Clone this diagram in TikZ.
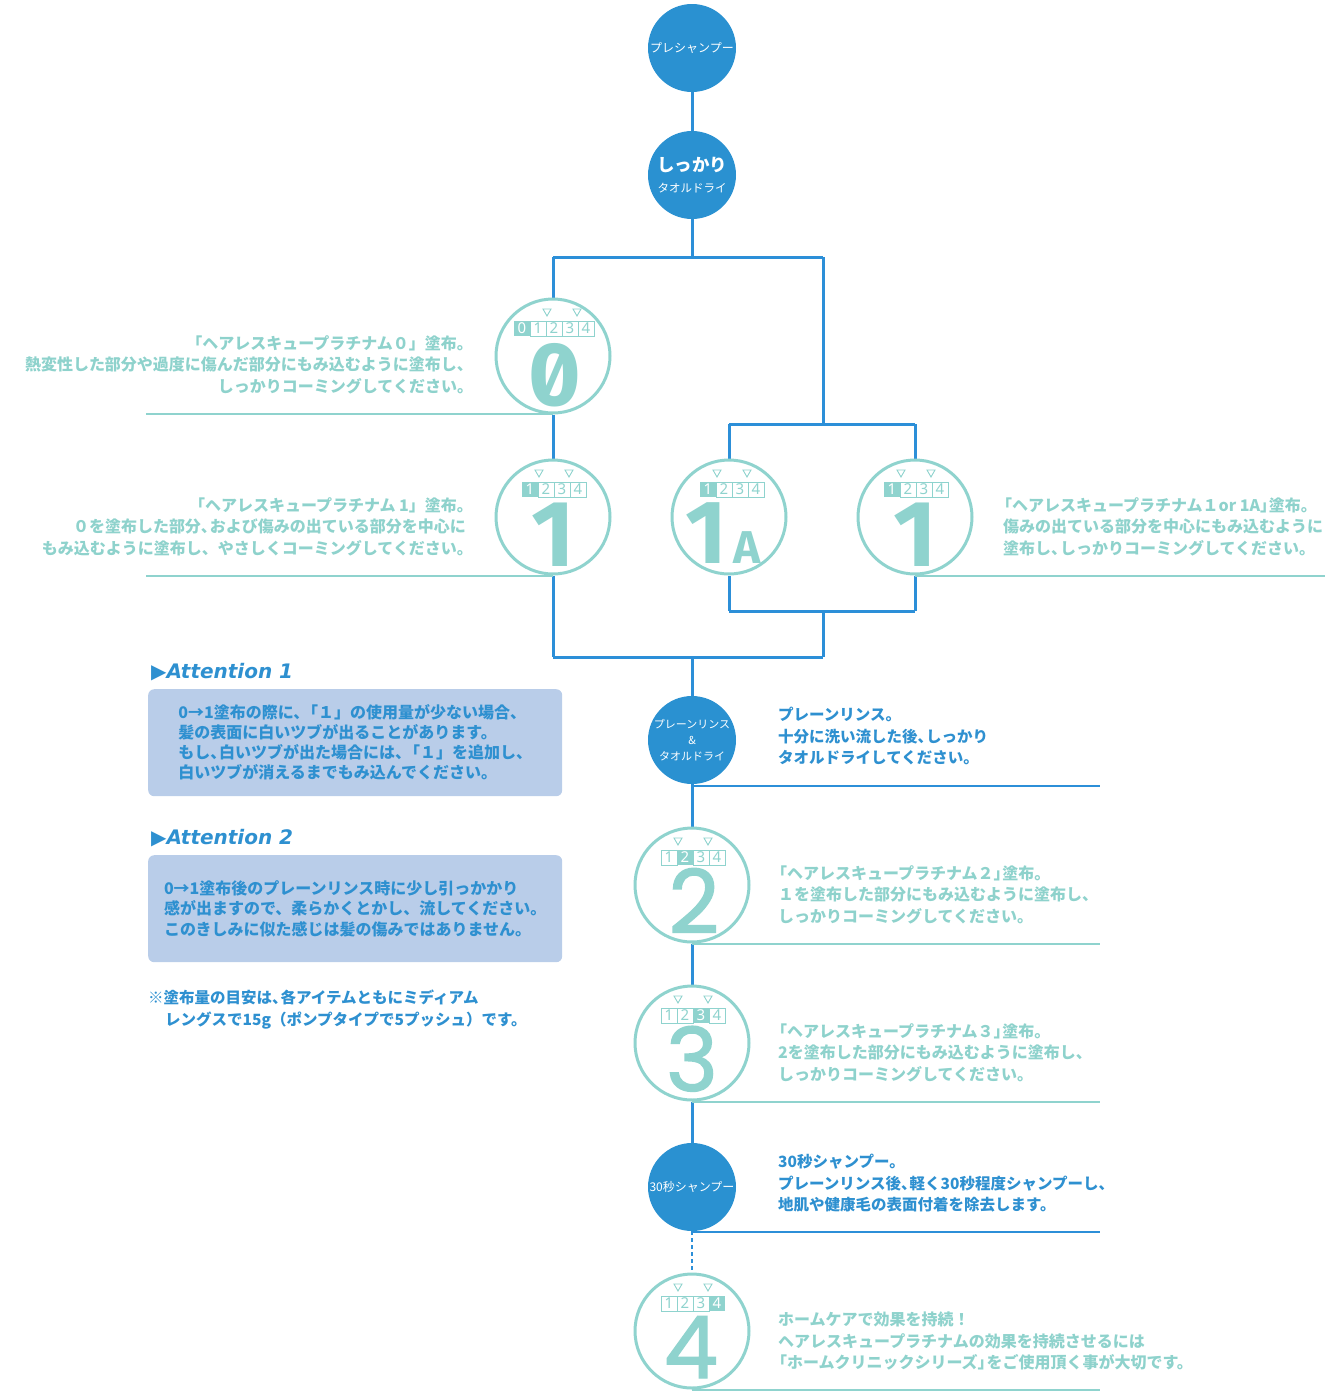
\documentclass[tikz,border=0pt]{standalone}
\usepackage{fontspec}
\setmainfont{Noto Sans CJK JP}
\newfontfamily\dvf{DejaVu Sans}
\newfontfamily\popf[FakeBold=1.6]{Poppins}
\newfontfamily\firaf[Numbers=SlashedZero]{Fira Sans}
\newfontfamily\idf{Noto Sans}
\usetikzlibrary{backgrounds}
\definecolor{cblue}{HTML}{2A91D1}
\definecolor{lblue}{HTML}{2C8FD8}
\definecolor{cteal}{HTML}{8FD3CE}
\definecolor{tteal}{HTML}{8ED2CC}
\definecolor{aboxc}{HTML}{B9CDE9}
\definecolor{btxt}{HTML}{2E90D0}
\newcommand\jlb{\kern-0.45em「}
\newcommand\jke{\kern-0.45em}
\tikzset{
  bc/.style={circle,fill=cblue,minimum size=88,inner sep=0,text=white,align=center},
  tc/.style={circle,draw=cteal,line width=3,fill=white,minimum size=114,inner sep=0},
  conn/.style={draw=lblue,line width=3},
  tline/.style={draw=cteal,line width=1.5},
  bline/.style={draw=lblue,line width=2},
  ttext/.style={text=tteal,font=\bfseries\fontsize{16}{21.5}\selectfont,inner sep=0},
  btext/.style={text=btxt,font=\bfseries\fontsize{15.5}{21.5}\selectfont,inner sep=0},
  abox/.style={fill=aboxc,rounded corners=6,inner sep=0,minimum width=414,minimum height=107,anchor=north west,align=left,text=btxt},
  atitle/.style={text=btxt,font=\dvf\bfseries\itshape\fontsize{20}{24}\selectfont,inner sep=0,anchor=west},
  idig/.style={inner sep=0,font=\idf\fontsize{15}{15}\selectfont},
  bigd/.style={inner sep=0,text=cteal,anchor=base}
}
\newcommand\Indic[4]{%
  \foreach \d in {#3,...,4}{%
    \pgfmathsetmacro\xa{#1+16*(\d-1)}%
    \ifnum\d=#4\relax
      \fill[cteal] ({\xa},{#2-35}) rectangle ++(16,15);
      \node[idig,text=white] (ind#2-\d) at ({\xa+8},{#2-27.5}) {\d};
    \else
      \draw[cteal,line width=1] ({\xa},{#2-35}) rectangle ++(16,15);
      \node[idig,text=cteal] (ind#2-\d) at ({\xa+8},{#2-27.5}) {\d};
    \fi
  }%
  \draw[cteal,line width=0.9] ({#1+13},{#2-47}) -- ++(8,0) -- ++(-4,7) -- cycle;
  \draw[cteal,line width=0.9] ({#1+43},{#2-47}) -- ++(8,0) -- ++(-4,7) -- cycle;
}
\begin{document}
\begin{tikzpicture}[x=1pt,y=-1pt]
\useasboundingbox (0,0) rectangle (1335,1393);

% blue step circles
\node[bc,font=\fontsize{12}{14}\selectfont] (s1) at (692,48) {プレシャンプー};
\node[bc,font=\fontsize{11.5}{21}\selectfont] (s2) at (692,175) {{\fontsize{17.5}{20}\selectfont\bfseries しっかり}\\タオルドライ};
\node[bc,font=\fontsize{11}{16}\selectfont] (rin) at (692,740) {プレーンリンス\\\&\\タオルドライ};
\node[bc,font=\fontsize{12}{14}\selectfont] (s30) at (692,1187) {30秒シャンプー};

% teal circles
\node[tc] (c0) at (553,356) {};
\node[tc] (c1l) at (553,517) {};
\node[tc] (c1a) at (729,517) {};
\node[tc] (c1r) at (915,517) {};
\node[tc] (c2) at (692,885) {};
\node[tc] (c3) at (692,1043) {};
\node[tc] (c4) at (692,1331) {};

% indicators
\Indic{530}{356}{0}{0}
\Indic{522}{517}{1}{1}
\Indic{700}{517}{1}{1}
\Indic{884}{517}{1}{1}
\Indic{661}{885}{1}{2}
\Indic{661}{1043}{1}{3}
\Indic{661}{1331}{1}{4}

% big digits
\node[bigd,font=\firaf\bfseries\fontsize{90}{90}\selectfont] (d0) at (555,405) {0};
\node[bigd,font=\firaf\bfseries\fontsize{94}{94}\selectfont] (d1l) at (553,566) {1};
\node[bigd,font=\firaf\bfseries\fontsize{90}{90}\selectfont,anchor=base east] (d1a) at (727,563) {1};
\node[bigd,font=\firaf\bfseries\fontsize{46}{46}\selectfont,anchor=base west] (d1aA) at (733,563) {A};
\node[bigd,font=\firaf\bfseries\fontsize{94}{94}\selectfont] (d1r) at (915,566) {1};
\node[bigd,font=\popf\fontsize{88}{88}\selectfont] (d2) at (694,933) {2};
\node[bigd,font=\popf\fontsize{88}{88}\selectfont] (d3) at (692,1091) {3};
\node[bigd,font=\popf\fontsize{86}{86}\selectfont] (d4) at (691,1378) {4};

% connectors
\begin{scope}[on background layer]
\coordinate (j0) at (692,257);
\coordinate (jl) at (553,257);
\coordinate (jr) at (823,257);
\coordinate (rj) at (823,424);
\coordinate (ra) at (729,424);
\coordinate (rb) at (915,424);
\coordinate (qa) at (729,611);
\coordinate (qb) at (915,611);
\coordinate (qm) at (823,611);
\coordinate (bl) at (553,657);
\coordinate (br) at (823,657);
\coordinate (m0) at (692,657);
\draw[conn] (s1) -- (s2);
\draw[conn] (s2) -- (j0);
\draw[conn] (jl) -- (jr);
\draw[conn] (jl) -- (c0);
\draw[conn] (c0) -- (c1l);
\draw[conn] (c1l) -- (bl);
\draw[conn] (bl) -- (br);
\draw[conn] (jr) -- (rj);
\draw[conn] (ra) -- (rb);
\draw[conn] (ra) -- (c1a);
\draw[conn] (rb) -- (c1r);
\draw[conn] (c1a) -- (qa);
\draw[conn] (c1r) -- (qb);
\draw[conn] (qa) -- (qb);
\draw[conn] (qm) -- (br);
\draw[conn] (m0) -- (rin);
\draw[conn] (rin) -- (c2);
\draw[conn] (c2) -- (c3);
\draw[conn] (c3) -- (s30);
\draw[draw=lblue,line width=1.5,dash pattern=on 4pt off 3pt] (s30) -- (c4);
% underlines
\draw[tline] (146,414) -- (553,414);
\draw[tline] (146,576) -- (553,576);
\draw[tline] (915,576) -- (1325,576);
\draw[bline] (692,786) -- (1100,786);
\draw[tline] (692,944) -- (1100,944);
\draw[tline] (692,1102) -- (1100,1102);
\draw[bline] (692,1232) -- (1100,1232);
\draw[tline] (692,1390) -- (1100,1390);
\end{scope}

% descriptive texts
\node[ttext,anchor=north east,align=right] (t0) at (466,335) {「ヘアレスキュープラチナム０」塗布。\jke\\熱変性した部分や過度に傷んだ部分にもみ込むように塗布し、\jke\\しっかりコーミングしてください。\jke};
\node[ttext,anchor=north east,align=right] (t1l) at (466,497) {「ヘアレスキュープラチナム 1」塗布。\jke\\０を塗布した部分、\jke および傷みの出ている部分を中心に\\もみ込むように塗布し、やさしくコーミングしてください。\jke};
\node[ttext,anchor=north west,align=left] (t1r) at (1003,497) {\jlb ヘアレスキュープラチナム１or 1A」\jke 塗布。\\傷みの出ている部分を中心にもみ込むように\\塗布し、\jke しっかりコーミングしてください。};
\node[btext,anchor=north west,align=left] (trin) at (778,707) {プレーンリンス。\\十分に洗い流した後、\jke しっかり\\タオルドライしてください。};
\node[ttext,anchor=north west,align=left] (t2) at (778,865) {\jlb ヘアレスキュープラチナム２」\jke 塗布。\\１を塗布した部分にもみ込むように塗布し、\\しっかりコーミングしてください。};
\node[ttext,anchor=north west,align=left] (t3) at (778,1023) {\jlb ヘアレスキュープラチナム３」\jke 塗布。\\2を塗布した部分にもみ込むように塗布し、\\しっかりコーミングしてください。};
\node[btext,anchor=north west,align=left] (t30) at (778,1154) {30秒シャンプー。\\プレーンリンス後、\jke 軽く30秒程度シャンプーし、\\地肌や健康毛の表面付着を除去します。};
\node[ttext,anchor=north west,align=left] (t4) at (778,1312) {ホームケアで効果を持続！\\ヘアレスキュープラチナムの効果を持続させるには\\\jlb ホームクリニックシリーズ」\jke をご使用頂く事が大切です。};

% attention blocks
\node[atitle] (at1) at (151,672) {▶Attention 1};
\node[abox,font=\bfseries\fontsize{16}{20}\selectfont] (a1) at (148,689) {0→1塗布の際に、\jke「１」の使用量が少ない場合、\\髪の表面に白いツブが出ることがあります。\\もし、\jke 白いツブが出た場合には、\jke「１」を追加し、\\白いツブが消えるまでもみ込んでください。};
\node[atitle] (at2) at (151,838) {▶Attention 2};
\node[abox,font=\bfseries\fontsize{16}{20.5}\selectfont] (a2) at (148,855) {0→1塗布後のプレーンリンス時に少し引っかかり\\感が出ますので、柔らかくとかし、流してください。\\このきしみに似た感じは髪の傷みではありません。};
\node[btext,anchor=north west,align=left] (note) at (148,990) {※塗布量の目安は、\jke 各アイテムともにミディアム\\\hspace*{17pt}レングスで15g（ポンプタイプで5プッシュ）です。};
\end{tikzpicture}
\end{document}
